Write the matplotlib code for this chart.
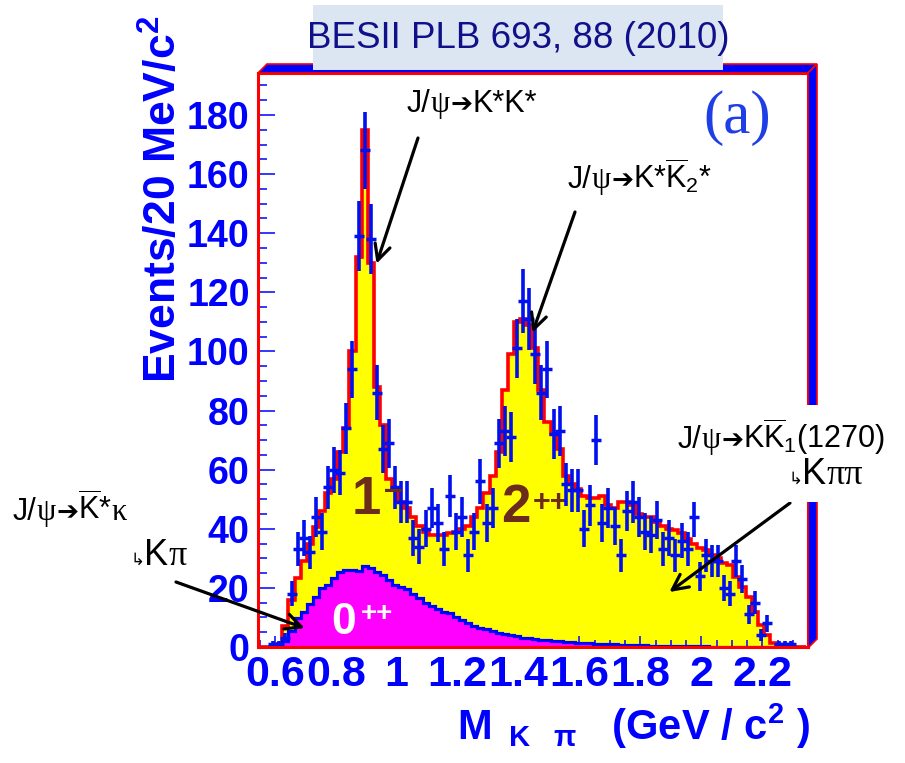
import numpy as np
import matplotlib.pyplot as plt
from matplotlib.patches import Polygon, Rectangle
from matplotlib.ticker import MultipleLocator, FixedLocator, FixedFormatter

plt.rcParams['mathtext.fontset'] = 'custom'
plt.rcParams['mathtext.rm'] = 'Liberation Sans'
plt.rcParams['mathtext.it'] = 'Liberation Sans:italic'
plt.rcParams['mathtext.bf'] = 'Liberation Sans:bold'

# M(K pi) histogram, 20 MeV bins starting at 0.545 GeV
bin_lo = 0.545
bin_w = 0.02

events = [0, 0, 1, 1, 3, 18, 33, 37, 32, 44, 39, 54, 60, 59, 74, 94, 139, 168, 138, 86,
          67, 69, 54, 49, 49, 37, 34, 40, 47, 42, 33, 51, 39, 44, 31, 39, 56, 42, 47, 69,
          73, 71, 101, 117, 111, 99, 86, 94, 72, 73, 55, 53, 53, 40, 48, 70, 42, 47, 41, 31,
          46, 49, 44, 39, 38, 43, 33, 37, 31, 36, 33, 44, 24, 31, 29, 29, 20, 18, 29, 23,
          11, 15, 4, 8, 0, 1, 1, 1, 0, 0]

total_fit = [0, 0, 0, 1, 7, 16, 23.5, 29, 35, 40.6, 46, 52, 57, 66, 74, 100, 132, 175, 130, 88,
             75, 57, 53, 49, 47, 44, 41, 39, 38, 38, 38, 38.5, 39, 40, 41, 44, 47, 52, 58, 66,
             87, 99, 110, 111, 109, 101, 87, 76, 72, 67, 58, 55, 53.6, 51, 50.5, 50.5, 51, 48, 47, 49,
             49, 48, 45, 44, 44, 42.3, 41, 40, 39.5, 38.5, 36.7, 35, 33.5, 32.8, 31, 30, 28.5, 27.7, 23.7, 20.4,
             17, 12, 7.4, 4, 1.3, 0.3, 0, 0, 0, 0]

fit_0pp = [0, 0, 0, 0.5, 2, 5.5, 9.7, 12, 14.7, 17, 19.8, 21, 23.2, 25.4, 26, 26, 25.8, 27.3, 26.6, 25.5,
           24.3, 22.5, 21, 20.2, 19.5, 18, 16.5, 15, 14, 13, 12, 11.4, 10, 9, 8, 7, 6.5, 6, 5.3, 4.8,
           4.3, 4, 3.6, 3.2, 2.9, 2.7, 2.5, 2.3, 2.1, 1.9, 1.7, 1.6, 1.5, 1.3, 1.2, 1.1, 1.0, 0.9, 0.9, 0.8,
           0.8, 0.7, 0.6, 0.6, 0.5, 0.5, 0.4, 0.4, 0.3, 0.3, 0.3, 0.2, 0.2, 0.2, 0.1, 0.1, 0, 0, 0, 0,
           0, 0, 0, 0, 0, 0, 0, 0, 0, 0]

xtick_vals = [0.6, 0.8, 1.0, 1.2, 1.4, 1.6, 1.8, 2.0, 2.2]
xtick_labels = ['0.6', '0.8', '1', '1.2', '1.4', '1.6', '1.8', '2', '2.2']
ytick_vals = [0, 20, 40, 60, 80, 100, 120, 140, 160, 180]

edges = bin_lo + bin_w * np.arange(len(events) + 1)
centers = edges[:-1] + bin_w / 2

W, H = 905, 763
fig = plt.figure(figsize=(W / 100, H / 100), dpi=100)
renderer = fig.canvas.get_renderer()


def fx(px):
    return px / W


def fy(py):
    return 1 - py / H


BLUE = '#0000ff'
RED = '#ff0000'
BROWN = '#6b2c1c'
SANS = 'Liberation Sans'
SERIF = 'Liberation Serif'
DJV = 'DejaVu Sans'

ax = fig.add_axes([fx(258), fy(647), fx(808) - fx(258), fy(73) - fy(647)])
ax.stairs(total_fit, edges, fill=True, color='#ffff00', lw=0, zorder=1)
ax.stairs(fit_0pp, edges, fill=True, color='#ff00ff', lw=0, zorder=2)
ax.stairs(total_fit, edges, color=RED, lw=2.6, zorder=3)
ax.stairs(fit_0pp, edges, color=BLUE, lw=2.3, zorder=4)

n = np.array(events, float)
m = n > 0
ax.errorbar(centers[m], n[m], yerr=np.sqrt(n[m]), fmt='_', color='#0010ee', ms=7, mew=2.5,
            elinewidth=2.6, capsize=0, zorder=6)

ax.set_xlim(bin_lo, 2.35)
ax.set_ylim(0, 194.2)
ax.xaxis.set_major_locator(FixedLocator(xtick_vals))
ax.xaxis.set_major_formatter(FixedFormatter(xtick_labels))
ax.xaxis.set_minor_locator(MultipleLocator(0.05))
ax.yaxis.set_major_locator(FixedLocator(ytick_vals))
ax.yaxis.set_minor_locator(MultipleLocator(5))
ax.tick_params(which='both', direction='in', top=False, right=False, color=BLUE, width=1.1)
ax.tick_params(axis='y', which='major', length=12, pad=6)
ax.tick_params(axis='y', which='minor', length=6.5)
ax.tick_params(axis='x', which='major', length=8, pad=6)
ax.tick_params(axis='x', which='minor', length=5)
for lab in ax.get_yticklabels():
    lab.set_fontfamily(SANS)
    lab.set_fontweight('bold')
    lab.set_fontsize(27)
    lab.set_color(BLUE)
for lab in ax.get_xticklabels():
    lab.set_fontfamily(SANS)
    lab.set_fontweight('bold')
    lab.set_fontsize(31)
    lab.set_color(BLUE)
for s in ax.spines.values():
    s.set_color(RED)
    s.set_linewidth(2.2)
    s.set_zorder(7)

# 3D frame border (top and right)
top_band = [(fx(258), fy(73)), (fx(267), fy(64)), (fx(817), fy(64)), (fx(808), fy(73))]
right_band = [(fx(808), fy(73)), (fx(817), fy(64)), (fx(817), fy(639)), (fx(808), fy(648))]
for pts in (top_band, right_band):
    fig.add_artist(Polygon(pts, closed=True, facecolor=BLUE, edgecolor=RED, lw=1.2,
                           transform=fig.transFigure, zorder=1))

# title box
fig.add_artist(Rectangle((fx(313), fy(70)), fx(723) - fx(313), fy(5) - fy(70),
                         facecolor='#dce6f2', edgecolor='none', transform=fig.transFigure, zorder=2))
fig.text(fx(518), fy(38), 'BESII PLB 693, 88 (2010)', ha='center', va='center',
         fontsize=26.5, family=SANS, color='#10108a', zorder=3)

# white box behind right annotation
fig.add_artist(Rectangle((fx(672), fy(502)), fx(905) - fx(672), fy(405) - fy(502),
                         facecolor='white', edgecolor='none', transform=fig.transFigure, zorder=2))

# axis titles
fig.text(fx(164), fy(16), r'Events/20 MeV/c$^{\mathbf{2}}$', rotation=90, ha='center', va='top',
         fontsize=32, fontweight='bold', family=SANS, color=BLUE)
fig.text(fx(810), fy(726), r'M$_{\mathbf{\ \ K\ \ \ \pi}}$   (GeV / c$^{\mathbf{2}}$ )', ha='right',
         va='center', fontsize=30, fontweight='bold', family=SANS, color=BLUE)

fig.text(fx(737), fy(118), '(a)', ha='center', va='center', fontsize=44,
         family=SERIF, color='#1f3fe6', zorder=3)

# component labels
comp = [('1', 366, 500, 38, BROWN, 5), ('–', 393, 490, 24, BROWN, 6.5),
        ('2', 516, 508, 38, BROWN, 5), ('++', 550, 503, 22, BROWN, 5),
        ('0', 344, 622, 32, 'white', 5), ('++', 377, 614, 20, 'white', 5)]
for s, px, py, fs, col, z in comp:
    ax.text(fx(px), fy(py), s, transform=fig.transFigure, ha='center', va='center',
            fontsize=fs, fontweight='bold', family=SANS, color=col, zorder=z)


def chain(px, baseline, pieces):
    # place text pieces one after another along a common baseline
    cur = px
    for s, fam, size in pieces:
        t = fig.text(fx(cur), fy(baseline), s, ha='left', va='baseline', fontsize=size,
                     family=fam, color='black', zorder=3)
        cur = t.get_window_extent(renderer).x1


ARW = ('➔', DJV, 19)
chain(407, 112, [('J/', SANS, 22), ('ψ', SERIF, 22), ARW, ('K*K*', SANS, 22)])
chain(568, 188, [('J/', SANS, 22), ('ψ', SERIF, 22), ARW,
                 (r'K*$\overline{\mathrm{K}}_{\mathrm{2}}$*', SANS, 22)])
chain(678, 448, [('J/', SANS, 22), ('ψ', SERIF, 22), ARW,
                 (r'K$\overline{\mathrm{K}}_{\mathrm{1}}$(1270)', SANS, 22)])
chain(788, 484, [('↳', DJV, 12), ('K', SANS, 26), ('ππ', SERIF, 26)])
chain(13, 520, [('J/', SANS, 22), ('ψ', SERIF, 22), ARW,
                (r'$\overline{\mathrm{K}}$*', SANS, 22), ('κ', SERIF, 22)])
chain(130, 565, [('↳', DJV, 12), ('K', SANS, 26), ('π', SERIF, 26)])

arrows = [((0.934, 129.7), (418, 138)),
          ((1.446, 106.4), (575, 212)),
          ((1.895, 18.6), (790, 503)),
          ((0.698, 6.4), (176, 582))]
for head, tail in arrows:
    ax.annotate('', xy=head, xytext=(fx(tail[0]), fy(tail[1])), textcoords='figure fraction',
                arrowprops=dict(arrowstyle='->', lw=2.3, color='black', mutation_scale=28,
                                shrinkA=0, shrinkB=0),
                annotation_clip=False, zorder=8)

fig.savefig('out.png', dpi=100)
